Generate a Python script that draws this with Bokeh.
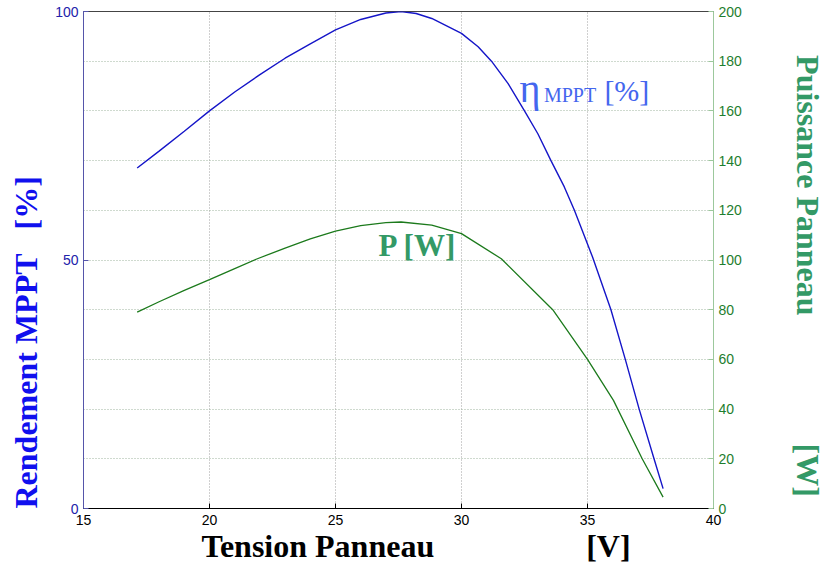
import math
from bokeh.plotting import figure
from bokeh.models import LinearAxis, Range1d, FixedTicker, Label, Title
from bokeh.embed import file_html
from bokeh.resources import INLINE

# --- data ---
tension_eta = [17.13, 18.0, 19.0, 20.0, 21.0, 22.0, 23.0, 24.0, 25.0, 26.0, 27.0, 27.6, 28.2,
               28.82, 30.0, 30.66, 31.19, 31.85, 32.5, 33.03, 33.55, 34.08, 34.48, 35.2, 35.93,
               36.5, 37.05, 37.64, 38.0]
rendement = [68.5, 71.9, 75.9, 80.0, 83.8, 87.3, 90.6, 93.5, 96.3, 98.4, 99.7, 100.0, 99.6,
             98.6, 95.6, 92.9, 90.0, 85.5, 80.0, 75.4, 70.0, 64.7, 60.0, 50.6, 40.0,
             30.0, 20.0, 10.0, 4.0]

tension_p = [17.13, 18.0, 19.0, 20.0, 21.0, 21.85, 23.0, 24.0, 25.0, 26.0, 27.0, 27.6,
             28.82, 30.0, 31.58, 33.62, 35.0, 36.03, 37.17, 38.0]
puissance = [79.0, 83.2, 87.8, 92.1, 96.5, 100.3, 104.8, 108.5, 111.6, 113.8, 115.0, 115.3,
             114.0, 110.6, 100.5, 80.0, 60.0, 43.5, 20.0, 4.6]

x_ticks = [15, 20, 25, 30, 35, 40]
left_ticks = [0, 50, 100]
left_grid = [0, 10, 20, 30, 40, 50, 60, 70, 80, 90, 100]
right_ticks = [0, 20, 40, 60, 80, 100, 120, 140, 160, 180, 200]

BLUE_LINE = "#1515c8"
GREEN_LINE = "#1c7a1c"
BLUE_TXT = "#1010ee"
GREEN_TXT = "#339966"
ETA_TXT = "#4466ee"
NB = "\u00a0"

p = figure(width=828, height=568, x_range=Range1d(15, 40), y_range=Range1d(0, 100),
           output_backend="svg", toolbar_location=None,
           min_border_left=83, min_border_right=112, min_border_top=11, min_border_bottom=60)
p.extra_y_ranges = {"puiss": Range1d(0, 200)}
p.background_fill_color = "white"
p.border_fill_color = "white"
p.outline_line_color = "#444444"
p.outline_line_width = 1

# axes
xa = p.xaxis[0]
xa.ticker = FixedTicker(ticks=x_ticks)
ya = p.yaxis[0]
ya.ticker = FixedTicker(ticks=left_ticks)
ra = LinearAxis(y_range_name="puiss", ticker=FixedTicker(ticks=right_ticks))
p.add_layout(ra, "right")

for ax, col, lcol in ((xa, "#000000", "#000000"), (ya, "#2222aa", "#5555aa"), (ra, "#1e7e2e", "#9cc89c")):
    ax.major_label_text_font = "Liberation Sans"
    ax.major_label_text_font_size = "14px"
    ax.major_label_text_color = col
    ax.axis_line_color = lcol
    ax.major_tick_line_color = lcol
    ax.major_tick_in = 5
    ax.major_tick_out = 0
    ax.minor_tick_line_color = None
    ax.major_label_standoff = 5
xa.major_label_standoff = 6

# right axis title (reads top to bottom)
ra.axis_label = NB * 4 + "Puissance Panneau" + NB * 16 + "[W]"
ra.axis_label_standoff = 45
ra.axis_label_text_font = "Liberation Serif"
ra.axis_label_text_font_style = "bold"
ra.axis_label_text_font_size = "32px"
ra.axis_label_text_color = GREEN_TXT

# grid
p.xgrid.grid_line_color = "#a0a0a0"
p.xgrid.grid_line_dash = "1 2"
p.ygrid.ticker = FixedTicker(ticks=left_grid)
p.ygrid.grid_line_color = "#9fb59f"
p.ygrid.grid_line_dash = "1 2"

# curves
p.line(tension_eta, rendement, line_color=BLUE_LINE, line_width=1.4)
p.line(tension_p, puissance, line_color=GREEN_LINE, line_width=1.3, y_range_name="puiss")

# in-plot annotations
def note(text, x, y, size, color, style="normal"):
    p.add_layout(Label(x=x, y=y, text=text, text_font="Liberation Serif", text_font_size=size,
                       text_font_style=style, text_color=color, text_baseline="middle"))

note("η", 32.3, 84.6, "40px", ETA_TXT)
note("MPPT", 33.27, 83.2, "20px", ETA_TXT)
note("[%]", 35.67, 84.2, "30px", ETA_TXT)
note("P [W]", 26.71, 53.0, "31px", GREEN_TXT, "bold")

# left and bottom titles
def side_title(text, side, offset, standoff, valign, color):
    t = Title(text=text, align="left", offset=offset, standoff=standoff, vertical_align=valign,
              text_font="Liberation Serif", text_font_style="bold", text_font_size="32px",
              text_color=color)
    p.add_layout(t, side)

side_title("Rendement MPPT" + NB * 3 + "[%]", "left", 0, 14, "top", BLUE_TXT)
side_title("Tension Panneau" + NB * 19 + "[V]", "below", 118, -3, "bottom", "#000000")

open("out.html", "w").write(file_html(p, INLINE))
